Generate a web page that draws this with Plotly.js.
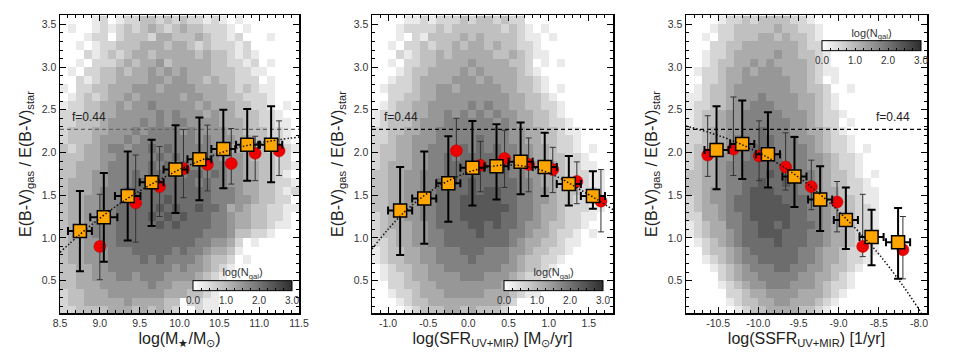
<!DOCTYPE html>
<html><head><meta charset="utf-8">
<script src="https://cdn.plot.ly/plotly-3.0.1.min.js"></script>
<style>html,body{margin:0;padding:0;background:#fff}#chart{width:954px;height:358px}</style>
</head><body><div id="chart"></div>
<script>
// ---------------- DATA ----------------
const yTickVals = [0.5, 1.0, 1.5, 2.0, 2.5, 3.0, 3.5];
const yTickText = ['0.5', '1.0', '1.5', '2.0', '2.5', '3.0', '3.5'];
const massTickVals = [8.5, 9.0, 9.5, 10.0, 10.5, 11.0, 11.5];
const massTickText = ['8.5', '9.0', '9.5', '10.0', '10.5', '11.0', '11.5'];
const sfrTickVals = [-1.0, -0.5, 0.0, 0.5, 1.0, 1.5];
const sfrTickText = ['-1.0', '-0.5', '0.0', '0.5', '1.0', '1.5'];
const ssfrTickVals = [-10.5, -10.0, -9.5, -9.0, -8.5, -8.0];
const ssfrTickText = ['-10.5', '-10.0', '-9.5', '-9.0', '-8.5', '-8.0'];
const cbRange = [0, 3];          // log(N_gal) colour bar, labelled 0.0 ... 3.0

const fRatio = 2.27;           // 1/f with f = 0.44
const fLabel = 'f=0.44';

// log(N_gal) per 0.1x0.1 bin, rows from y=3.5-3.6 (top) down to y=0.1-0.2; one char per bin
// '.' = empty, digit d = log(N_gal) of d*0.3
const histLevelPerDigit = 0.3;
const massHistX0 = 8.55, sfrHistX0 = -1.15, ssfrHistX0 = -10.85, histY0 = 0.15, histBin = 0.1;
const massHist = [
"....1 2.122 33232 32212 1.1.. .....",
".1..1 21232 34323 43322 21.1. .....",
"...12 2.233 32443 33432 212.. .1...",
"..1.1 22333 44434 43232 2212. .....",
"...21 23234 43444 44343 32121 .....",
"..1.2 22343 44534 44443 32212 .1...",
".1.22 33434 45454 54443 33221 1....",
"..212 33444 45545 54434 33222 .1...",
"1.223 34445 55455 55444 43232 11...",
".1232 34454 55555 45544 43322 21...",
"12233 44545 56555 55454 44332 21.1.",
"22233 44555 55656 55545 44333 221..",
"22333 45555 65656 65555 44433 2211.",
"23334 45556 56666 56555 54433 3221.",
"23334 55565 66666 66565 55443 3221.",
"32344 56656 67676 66665 54443 32.21",
"33344 55666 66767 66666 55543 3322.",
"33444 56666 67676 76666 65544 33221",
"33445 56667 67777 67767 65544 3321.",
"34445 56667 77777 77676 65544 33221",
"34445 66677 77777 77776 66544 33212",
"34455 66677 77787 77776 66554 3322.",
"34455 66777 77878 77877 64543 32211",
"34455 66777 78787 87776 65443 3221.",
"34456 66777 77878 77776 65443 3211.",
"34456 66777 77777 77766 65332 21...",
"34455 66777 77777 77665 542.1 .....",
"34455 56667 77776 76654 431.. .....",
"34455 56666 76766 66543 32.1. .....",
"33445 56666 66665 65543 21... .....",
"33445 55665 66655 55432 1.... .....",
"33444 55555 56554 44322 1.... .....",
"23344 45555 55544 43321 ..... .....",
"23344 44454 44433 .2211 ..... .....",
"22333 34443 43432 ..211 ..... ....."
];
const sfrHist = [
"....1 12122 23233 2322. ..... .....",
"...12 22232 33333 32321 .1... .....",
"...1. 21333 34343 33321 1.1.. .....",
"..1.2 23233 43443 43322 1.... .....",
"...21 23343 44444 33432 11... .....",
"..1.2 23344 44544 44332 .1.1. .....",
"...12 33444 45454 44432 1.... .....",
"..122 34444 55545 44433 21... .....",
".1222 34455 45555 54433 21.1. .....",
"..223 34455 55555 55443 321.. .....",
".1233 44555 55656 55443 3221. .....",
"12233 44556 56565 65544 3321. .....",
"12333 45556 66666 56544 33221 .....",
"22334 45566 66666 66554 43321 1....",
"22344 55566 66676 66554 43322 1....",
"23344 55666 67676 76655 44322 1.1..",
"23344 55667 67777 76655 44332 21...",
"23444 55667 77777 77665 54432 211..",
"33445 56667 77777 77665 54432 2211.",
"33445 56677 77877 77766 54433 2211.",
"33445 56677 77878 87766 55433 3221.",
"33445 56677 78888 87766 55433 2221.",
"33445 56677 78888 88766 54432 2211.",
"23445 56677 78888 87766 54432 211..",
"23444 55677 77887 87765 54332 21...",
"23344 55667 77787 77665 44322 1.1..",
"22344 55667 77777 77654 43321 1....",
"12334 45566 67776 66554 33221 .....",
"12334 45566 66766 66543 3221. .....",
".1233 44556 66666 65543 321.. .....",
".1223 44555 56665 55432 21... .....",
"..223 34455 55555 54432 1.... .....",
"..122 34445 55554 44321 1.... .....",
"...12 33444 44444 432.. ..... .....",
"....1 23334 43433 32... ..... ....."
];
const ssfrHist = [
"....1 22323 33322 1.... ..... .....",
"...12 23333 34332 21... ..... .....",
"..1.2 23334 43433 21... ..... .....",
"...22 33444 44443 22... ..... .....",
"..122 34444 45443 321.. ..... .....",
"..123 34454 54444 321.. ..... .....",
".1223 44545 55444 3211. ..... .....",
"..223 44555 55544 32.1. ..... .....",
".1233 45555 55544 332.. 1.... .....",
"11233 45556 55554 4321. ..... .....",
"12233 45566 65554 4321. ..... .....",
"12334 55666 66555 43221 ..... .....",
"12334 55666 66655 4322. 1.... .....",
"22344 55667 66655 44321 ..... .....",
"22344 56667 76665 54322 1.... .....",
"23344 56677 76666 54322 1.1.. .....",
"23445 56677 77666 55432 21... .....",
"23445 66777 77766 55432 21... .....",
"33445 66777 87776 65433 21.1. .....",
"33445 66778 77876 65433 221.. .....",
"33455 66788 87776 65443 2211. .....",
"23455 67788 88777 65443 3211. .....",
"23445 67788 88877 66543 3221. .....",
"22445 66788 88877 66543 3221. .....",
"12344 66778 87877 76543 3221. .....",
"12344 56778 88777 66544 3221. .....",
".1234 56777 78777 66544 3211. .....",
"..233 45677 77776 65443 2211. .....",
"..123 45667 77776 65443 221.. .....",
"...12 34566 67766 55433 21... .....",
"....2 34556 66665 54432 1.... .....",
"....1 23455 66655 54322 1.... .....",
"..... 22344 55554 44321 ..... .....",
"..... 12334 45544 4321. ..... .....",
"..... .1233 44443 321.. ..... ....."
];

// Panel 1: stellar mass
const massSqX    = [8.75, 9.05, 9.35, 9.65, 9.95, 10.25, 10.55, 10.85, 11.15];
const massSqY    = [1.08, 1.24, 1.49, 1.65, 1.80, 1.92, 2.04, 2.09, 2.09];
const massSqHi   = [1.55, 1.76, 2.01, 2.15, 2.32, 2.41, 2.50, 2.51, 2.54];
const massSqLo   = [0.61, 0.72, 0.97, 1.14, 1.29, 1.44, 1.58, 1.67, 1.65];
const massSqXErr = [0.15, 0.17, 0.16, 0.15, 0.15, 0.15, 0.15, 0.14, 0.14];
const massRedX   = [9.00, 9.45, 9.75, 10.05, 10.35, 10.65, 10.95, 11.25];
const massRedY   = [0.90, 1.41, 1.60, 1.81, 1.86, 1.87, 1.99, 2.02];
const massRedHi  = [1.51, 1.97, 2.07, 2.27, 2.32, 2.28, 2.19, 2.37];
const massRedLo  = [0.51, 0.95, 1.25, 1.47, 1.55, 1.63, 1.67, 1.73];
const massFitX   = [8.5, 8.75, 9.0, 9.25, 9.5, 9.75, 10.0, 10.25, 10.5, 10.75, 11.0, 11.25, 11.5];
const massFitY   = [0.83, 1.04, 1.23, 1.40, 1.55, 1.68, 1.80, 1.90, 1.99, 2.06, 2.11, 2.15, 2.18];

// Panel 2: SFR
const sfrSqX    = [-0.85, -0.55, -0.25, 0.05, 0.35, 0.65, 0.95, 1.25, 1.55];
const sfrSqY    = [1.32, 1.46, 1.64, 1.82, 1.84, 1.89, 1.83, 1.63, 1.49];
const sfrSqHi   = [1.83, 2.01, 2.19, 2.37, 2.33, 2.35, 2.23, 1.96, 1.78];
const sfrSqLo   = [0.80, 0.93, 1.19, 1.38, 1.45, 1.51, 1.49, 1.38, 1.34];
const sfrSqXErr = [0.15, 0.15, 0.15, 0.15, 0.15, 0.15, 0.15, 0.15, 0.15];
const sfrRedX   = [-0.15, 0.15, 0.45, 0.75, 1.05, 1.35, 1.65];
const sfrRedY   = [2.02, 1.85, 1.93, 1.86, 1.80, 1.66, 1.43];
const sfrRedHi  = [2.40, 2.13, 2.26, 2.17, 2.06, 1.89, 1.80];
const sfrRedLo  = [1.64, 1.54, 1.59, 1.54, 1.53, 1.40, 1.07];
const sfrFitX   = [-1.2, -1.0, -0.8, -0.6, -0.4, -0.2, 0.0, 0.2, 0.4, 0.6, 0.8, 1.0, 1.2, 1.4, 1.6, 1.8];
const sfrFitY   = [0.87, 1.10, 1.30, 1.46, 1.59, 1.69, 1.77, 1.82, 1.85, 1.85, 1.82, 1.76, 1.67, 1.56, 1.45, 1.33];

// Panel 3: SSFR
const ssfrSqX    = [-10.52, -10.20, -9.88, -9.55, -9.23, -8.91, -8.59, -8.26];
const ssfrSqY    = [2.03, 2.10, 1.98, 1.72, 1.45, 1.21, 1.01, 0.95];
const ssfrSqHi   = [2.54, 2.61, 2.47, 2.18, 1.84, 1.59, 1.33, 1.35];
const ssfrSqLo   = [1.57, 1.69, 1.59, 1.36, 1.08, 0.87, 0.68, 0.52];
const ssfrSqXErr = [0.15, 0.15, 0.15, 0.15, 0.15, 0.15, 0.15, 0.15];
const ssfrRedX   = [-10.63, -10.31, -9.99, -9.66, -9.34, -9.02, -8.70, -8.20];
const ssfrRedY   = [1.97, 2.04, 1.96, 1.83, 1.60, 1.42, 0.90, 0.86];
const ssfrRedHi  = [2.43, 2.65, 2.37, 2.23, 1.91, 1.66, 1.51, 1.25];
const ssfrRedLo  = [1.72, 1.73, 1.67, 1.56, 1.33, 1.07, 0.78, 0.52];
const ssfrFitX   = [-10.9, -10.6, -10.3, -10.0, -9.7, -9.4, -9.1, -8.8, -8.5, -8.2, -7.97];
const ssfrFitY   = [2.31, 2.23, 2.13, 2.00, 1.84, 1.64, 1.40, 1.12, 0.81, 0.44, 0.12];

// ---------------- BUILD ----------------
const W = 954, H = 358;
const FONT = 'Liberation Sans, Arial, Helvetica, sans-serif';
const px = v => v / W, py = v => 1 - v / H;
const panels = [
  {xd: [60, 299], xr: [8.5, 11.5], tv: massTickVals, tt: massTickText, t0: 8.5,
   title: 'log(M<sub>★</sub>/M<sub>⊙</sub>)', hist: massHist, hx0: massHistX0,
   sqX: massSqX, sqY: massSqY, sqHi: massSqHi, sqLo: massSqLo, sqXE: massSqXErr,
   rX: massRedX, rY: massRedY, rHi: massRedHi, rLo: massRedLo, fX: massFitX, fY: massFitY,
   dashColor: '#666', fx: 8.62, fAnchor: 'left', cb: [242.5, 288]},
  {xd: [372, 613], xr: [-1.2, 1.8], tv: sfrTickVals, tt: sfrTickText, t0: -1.2,
   title: 'log(SFR<sub>UV+MIR</sub>) [M<sub>⊙</sub>/yr]', hist: sfrHist, hx0: sfrHistX0,
   sqX: sfrSqX, sqY: sfrSqY, sqHi: sfrSqHi, sqLo: sfrSqLo, sqXE: sfrSqXErr,
   rX: sfrRedX, rY: sfrRedY, rHi: sfrRedHi, rLo: sfrRedLo, fX: sfrFitX, fY: sfrFitY,
   dashColor: '#000', fx: -1.07, fAnchor: 'left', cb: [553.5, 288]},
  {xd: [686, 927], xr: [-10.9, -7.9], tv: ssfrTickVals, tt: ssfrTickText, t0: -11,
   title: 'log(SSFR<sub>UV+MIR</sub>) [1/yr]', hist: ssfrHist, hx0: ssfrHistX0,
   sqX: ssfrSqX, sqY: ssfrSqY, sqHi: ssfrSqHi, sqLo: ssfrSqLo, sqXE: ssfrSqXErr,
   rX: ssfrRedX, rY: ssfrRedY, rHi: ssfrRedHi, rLo: ssfrRedLo, fX: ssfrFitX, fY: ssfrFitY,
   dashColor: '#000', fx: -8.09, fAnchor: 'right', cb: [871.5, 48.5]}
];

const traces = [];
const layout = {
  width: W, height: H, margin: {l: 0, r: 0, t: 0, b: 0},
  paper_bgcolor: '#fff', plot_bgcolor: '#fff', showlegend: false,
  font: {family: FONT, size: 10, color: '#333'}, annotations: []
};

panels.forEach((p, i) => {
  const n = i === 0 ? '' : String(i + 1);
  const xa = 'x' + n, ya = 'y' + n;
  const z = p.hist.slice().reverse().map(r =>
    r.replace(/ /g, '').split('').map(c => c === '.' ? null : Number(c) * histLevelPerDigit));
  traces.push({
    type: 'heatmap', xaxis: xa, yaxis: ya, z: z,
    x0: p.hx0, dx: histBin, y0: histY0, dy: histBin,
    zmin: cbRange[0], zmax: cbRange[1], colorscale: [[0, '#ffffff'], [1, '#2e2e2e']],
    hoverinfo: 'skip', showscale: true,
    colorbar: {
      orientation: 'h', x: px(p.cb[0]), xanchor: 'center', y: py(p.cb[1]), yanchor: 'middle',
      len: 99, lenmode: 'pixels', thickness: 10, thicknessmode: 'pixels',
      outlinewidth: 1, outlinecolor: '#000', xpad: 0, ypad: 0,
      ticks: 'inside', ticklen: 3, tickcolor: '#000', tickwidth: 1,
      tickmode: 'linear', tick0: 0, dtick: 0.25, ticklabelstep: 4, tickformat: '.1f',
      tickfont: {family: FONT, size: 10, color: '#333'},
      title: {text: 'log(N<sub>gal</sub>)', side: 'top', font: {family: FONT, size: 11, color: '#333'}}
    }
  });
  traces.push({
    type: 'scatter', mode: 'lines', xaxis: xa, yaxis: ya, hoverinfo: 'skip',
    x: p.xr, y: [fRatio, fRatio], line: {color: p.dashColor, width: 1.3, dash: '4px,3px'}
  });
  traces.push({
    type: 'scatter', mode: 'markers', xaxis: xa, yaxis: ya,
    x: p.rX, y: p.rY,
    marker: {symbol: 'circle', size: 12, color: '#ee0000', line: {color: '#b00000', width: 0.5}},
    error_y: {type: 'data', symmetric: false,
      array: p.rHi.map((v, k) => v - p.rY[k]), arrayminus: p.rLo.map((v, k) => p.rY[k] - v),
      color: '#333', thickness: 1, width: 3}
  });
  traces.push({
    type: 'scatter', mode: 'markers', xaxis: xa, yaxis: ya,
    x: p.sqX, y: p.sqY,
    marker: {symbol: 'square', size: 13, color: '#ffa500', line: {color: '#000', width: 1.5}},
    error_y: {type: 'data', symmetric: false,
      array: p.sqHi.map((v, k) => v - p.sqY[k]), arrayminus: p.sqLo.map((v, k) => p.sqY[k] - v),
      color: '#000', thickness: 2, width: 4},
    error_x: {type: 'data', array: p.sqXE, color: '#000', thickness: 2, width: 4}
  });
  traces.push({
    type: 'scatter', mode: 'lines', xaxis: xa, yaxis: ya, hoverinfo: 'skip',
    x: p.fX, y: p.fY, line: {color: '#111', width: 1.5, dash: '1.5px,2px', shape: 'spline'}
  });

  layout['xaxis' + n] = {
    domain: [px(p.xd[0]), px(p.xd[1])], range: p.xr, anchor: ya,
    showline: true, linecolor: '#000', linewidth: 1.5, mirror: 'allticks',
    ticks: 'inside', ticklen: 6, tickwidth: 1, tickcolor: '#000',
    tickmode: 'array', tickvals: p.tv, ticktext: p.tt, showgrid: false, zeroline: false,
    tickfont: {family: FONT, size: 10.5, color: '#333'},
    minor: {ticks: 'inside', ticklen: 3, tickcolor: '#000', tickmode: 'linear', tick0: p.t0, dtick: 0.1, showgrid: false},
    title: {text: p.title, standoff: 4, font: {family: FONT, size: 16, color: '#222'}}
  };
  layout['yaxis' + n] = {
    domain: [py(313), py(15)], range: [0.12, 3.61], anchor: xa,
    showline: true, linecolor: '#000', linewidth: 1.5, mirror: 'allticks',
    ticks: 'inside', ticklen: 6, tickwidth: 1, tickcolor: '#000',
    tickmode: 'array', tickvals: yTickVals, ticktext: yTickText, showgrid: false, zeroline: false,
    tickfont: {family: FONT, size: 10.5, color: '#333'},
    minor: {ticks: 'inside', ticklen: 3, tickcolor: '#000', tickmode: 'linear', tick0: 0, dtick: 0.1, showgrid: false},
    title: {text: 'E(B-V)<sub>gas</sub> / E(B-V)<sub>star</sub>', standoff: 6, font: {family: FONT, size: 16, color: '#222'}}
  };
  layout.annotations.push({
    xref: xa, yref: ya, x: p.fx, y: 2.41, text: fLabel, showarrow: false,
    xanchor: p.fAnchor, yanchor: 'middle', font: {family: FONT, size: 12, color: '#222'}
  });
});

Plotly.newPlot('chart', traces, layout, {staticPlot: true, displayModeBar: false});
</script>
</body></html>
